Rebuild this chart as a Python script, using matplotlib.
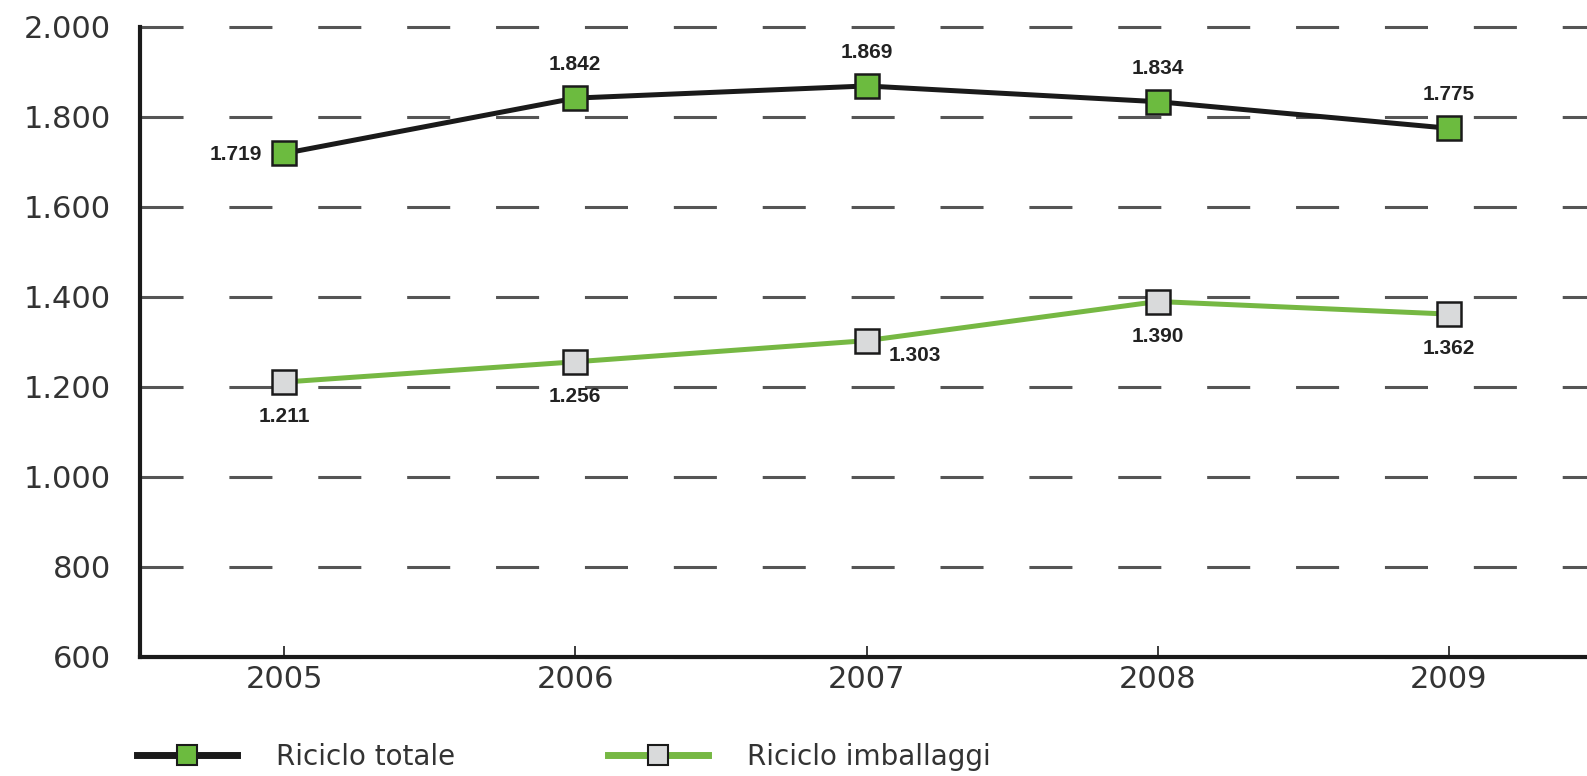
import matplotlib
matplotlib.use("Agg")
import matplotlib.pyplot as plt
from matplotlib.lines import Line2D

# tonnellate (migliaia) per anno
years = [2005, 2006, 2007, 2008, 2009]
riciclo_totale = [1719, 1842, 1869, 1834, 1775]
riciclo_imballaggi = [1211, 1256, 1303, 1390, 1362]
y_ticks = [600, 800, 1000, 1200, 1400, 1600, 1800, 2000]

plt.rcParams["lines.scale_dashes"] = False
plt.rcParams["font.family"] = ["DejaVu Sans"]

GREEN_MARK = "#6cbb3f"
GREEN_LINE = "#76b843"
GREY_MARK = "#d9dadb"
DARK = "#1a1a1a"

fig = plt.figure(figsize=(15.87, 7.76), dpi=100)
ax = fig.add_axes([140 / 1587, 1 - 657 / 776, 1 - 140 / 1587, 630 / 776])

ax.plot(years, riciclo_totale, color=DARK, lw=3.6, marker="s", ms=17,
        mfc=GREEN_MARK, mec=DARK, mew=1.8, zorder=4, clip_on=False)
ax.plot(years, riciclo_imballaggi, color=GREEN_LINE, lw=3.6, marker="s", ms=17,
        mfc=GREY_MARK, mec=DARK, mew=1.8, zorder=4, clip_on=False)

def fmt(v):
    return f"{v:,}".replace(",", ".")

lab_kw = dict(textcoords="offset points", fontsize=15, fontweight="bold",
              color="#222222", family=["Liberation Sans", "DejaVu Sans"],
              va="center")

# etichette della serie totale: sopra, la prima a sinistra
for i, (x, v) in enumerate(zip(years, riciclo_totale)):
    if i == 0:
        ax.annotate(fmt(v), (x, v), xytext=(-16, -1), ha="right", **lab_kw)
    else:
        ax.annotate(fmt(v), (x, v), xytext=(0, 24), ha="center", **lab_kw)

# etichette imballaggi: sotto, il 2007 in basso a destra
for i, (x, v) in enumerate(zip(years, riciclo_imballaggi)):
    if i == 2:
        ax.annotate(fmt(v), (x, v), xytext=(16, -11), ha="left", **lab_kw)
    else:
        ax.annotate(fmt(v), (x, v), xytext=(0, -25), ha="center", **lab_kw)

ax.set_xlim(2005 - 144 / 291, 2009 + 138 / 291)
ax.set_ylim(600, 2000)
ax.set_xticks(years)
ax.set_yticks(y_ticks)
ax.set_yticklabels([fmt(t) for t in y_ticks])

ax.grid(axis="y", color="#555555", lw=2.2, linestyle=(0, (31, 33)))
ax.set_axisbelow(True)
for gl in ax.get_ygridlines():
    gl.set_clip_on(False)

for side in ["top", "right"]:
    ax.spines[side].set_visible(False)
for side in ["left", "bottom"]:
    ax.spines[side].set_linewidth(3)
    ax.spines[side].set_color(DARK)

ax.tick_params(axis="y", length=0, pad=21, labelsize=22, labelcolor="#333333")
ax.tick_params(axis="x", direction="in", length=8, width=1.2, color=DARK,
               pad=6, labelsize=22, labelcolor="#333333")

# legenda in basso, due voci separate
h_tot = Line2D([], [], color=DARK, lw=5, marker="s", ms=15,
               mfc=GREEN_MARK, mec=DARK, mew=1.5)
h_imb = Line2D([], [], color=GREEN_LINE, lw=5, marker="s", ms=15,
               mfc=GREY_MARK, mec=DARK, mew=1.5)
leg_kw = dict(loc="center left", frameon=False, fontsize=20, numpoints=1,
              handlelength=3.6, handletextpad=1.4, borderpad=0,
              borderaxespad=0, labelcolor="#333333")
fig.legend([h_tot], ["Riciclo totale"], bbox_to_anchor=(137 / 1587, 1 - 757 / 776), **leg_kw)
fig.legend([h_imb], ["Riciclo imballaggi"], bbox_to_anchor=(608 / 1587, 1 - 757 / 776), **leg_kw)

fig.savefig("out.png", dpi=100, facecolor="white")
